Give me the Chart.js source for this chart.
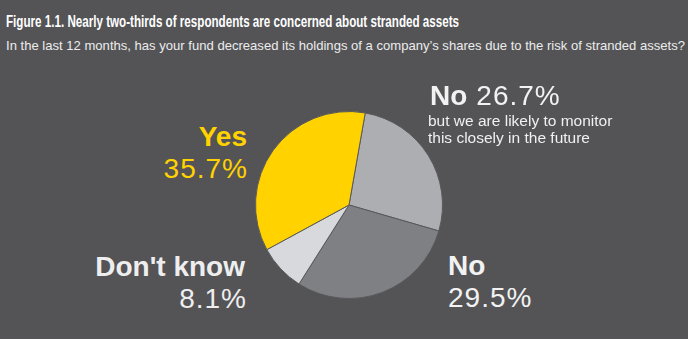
<!DOCTYPE html>
<html>
<head>
<meta charset="utf-8">
<script src="https://cdn.jsdelivr.net/npm/chart.js@4.4.0/dist/chart.umd.min.js"></script>
<style>
  html,body{margin:0;padding:0;}
  body{width:688px;height:339px;background:#545457;position:relative;overflow:hidden;font-family:"Liberation Sans",Arial,sans-serif;color:#fff;}
  .fit{position:absolute;white-space:nowrap;transform-origin:0 0;line-height:normal;}
  #title{left:6px;top:13px;font-size:16px;font-weight:700;color:#ffffff;}
  #subtitle{left:6px;top:38px;font-size:13px;color:#ececec;}
  #chartBox{position:absolute;left:255px;top:111px;width:188px;height:188px;}
  .lbl{position:absolute;white-space:nowrap;line-height:normal;}
  .big{font-size:28px;}
  .b{font-weight:700;}
  .v{letter-spacing:1px;}
</style>
</head>
<body>
<div id="title" class="fit" data-w="453">Figure 1.1. Nearly two-thirds of respondents are concerned about stranded assets</div>
<div id="subtitle" class="fit" data-w="679">In the last 12 months, has your fund decreased its holdings of a company’s shares due to the risk of stranded assets?</div>

<div id="chartBox"><canvas id="c"></canvas></div>

<div class="lbl big b" id="lYes" style="right:441px;top:121px;color:#ffd200;"></div>
<div class="lbl big v" id="vYes" style="right:440px;top:153px;color:#ffd200;"></div>

<div class="lbl" style="left:430px;top:79.5px;font-size:28px;color:#f2f2f2;"><span class="b" id="lNoM"></span><span class="v" id="vNoM" style="margin-left:9px;"></span></div>
<div class="lbl" id="noteNoM" style="left:428px;top:111.5px;font-size:15.5px;line-height:17.4px;color:#f0f0f0;"></div>

<div class="lbl big b" id="lDK" style="right:443px;top:251px;color:#eeeeee;"></div>
<div class="lbl big v" id="vDK" style="right:441px;top:283px;color:#eeeeee;"></div>

<div class="lbl big b" id="lNo" style="left:448px;top:250px;color:#f2f2f2;"></div>
<div class="lbl big v" id="vNo" style="left:448px;top:282px;color:#f2f2f2;"></div>

<script>
// ---- data ----
const categories = ["No, but likely to monitor", "No", "Don't know", "Yes"];
const shortLabels = ["No", "No", "Don't know", "Yes"];
const values = [26.7, 29.5, 8.1, 35.7];
const noteText = ["but we are likely to monitor", "this closely in the future"];
const colors = ["#adaeb2", "#7f8084", "#d8d9dc", "#ffd200"];

// ---- labels ----
const pct = v => v.toFixed(1) + "%";
document.getElementById("lNoM").textContent = shortLabels[0];
document.getElementById("vNoM").textContent = pct(values[0]);
document.getElementById("noteNoM").innerHTML = noteText.join("<br>");
document.getElementById("lNo").textContent = shortLabels[1];
document.getElementById("vNo").textContent = pct(values[1]);
document.getElementById("lDK").textContent = shortLabels[2];
document.getElementById("vDK").textContent = pct(values[2]);
document.getElementById("lYes").textContent = shortLabels[3];
document.getElementById("vYes").textContent = pct(values[3]);

// fit title widths (condensed look)
document.querySelectorAll(".fit").forEach(el => {
  const target = parseFloat(el.dataset.w);
  const w = el.getBoundingClientRect().width;
  el.style.transform = "scaleX(" + (target / w) + ")";
});

new Chart(document.getElementById("c"), {
  type: "pie",
  data: {
    labels: categories,
    datasets: [{
      data: values,
      backgroundColor: colors,
      borderColor: "#5a5a5d",
      borderWidth: 1
    }]
  },
  options: {
    responsive: true,
    maintainAspectRatio: false,
    animation: false,
    rotation: 10,
    layout: {padding: 0},
    plugins: {legend: {display: false}, tooltip: {enabled: false}}
  }
});
</script>
</body>
</html>
